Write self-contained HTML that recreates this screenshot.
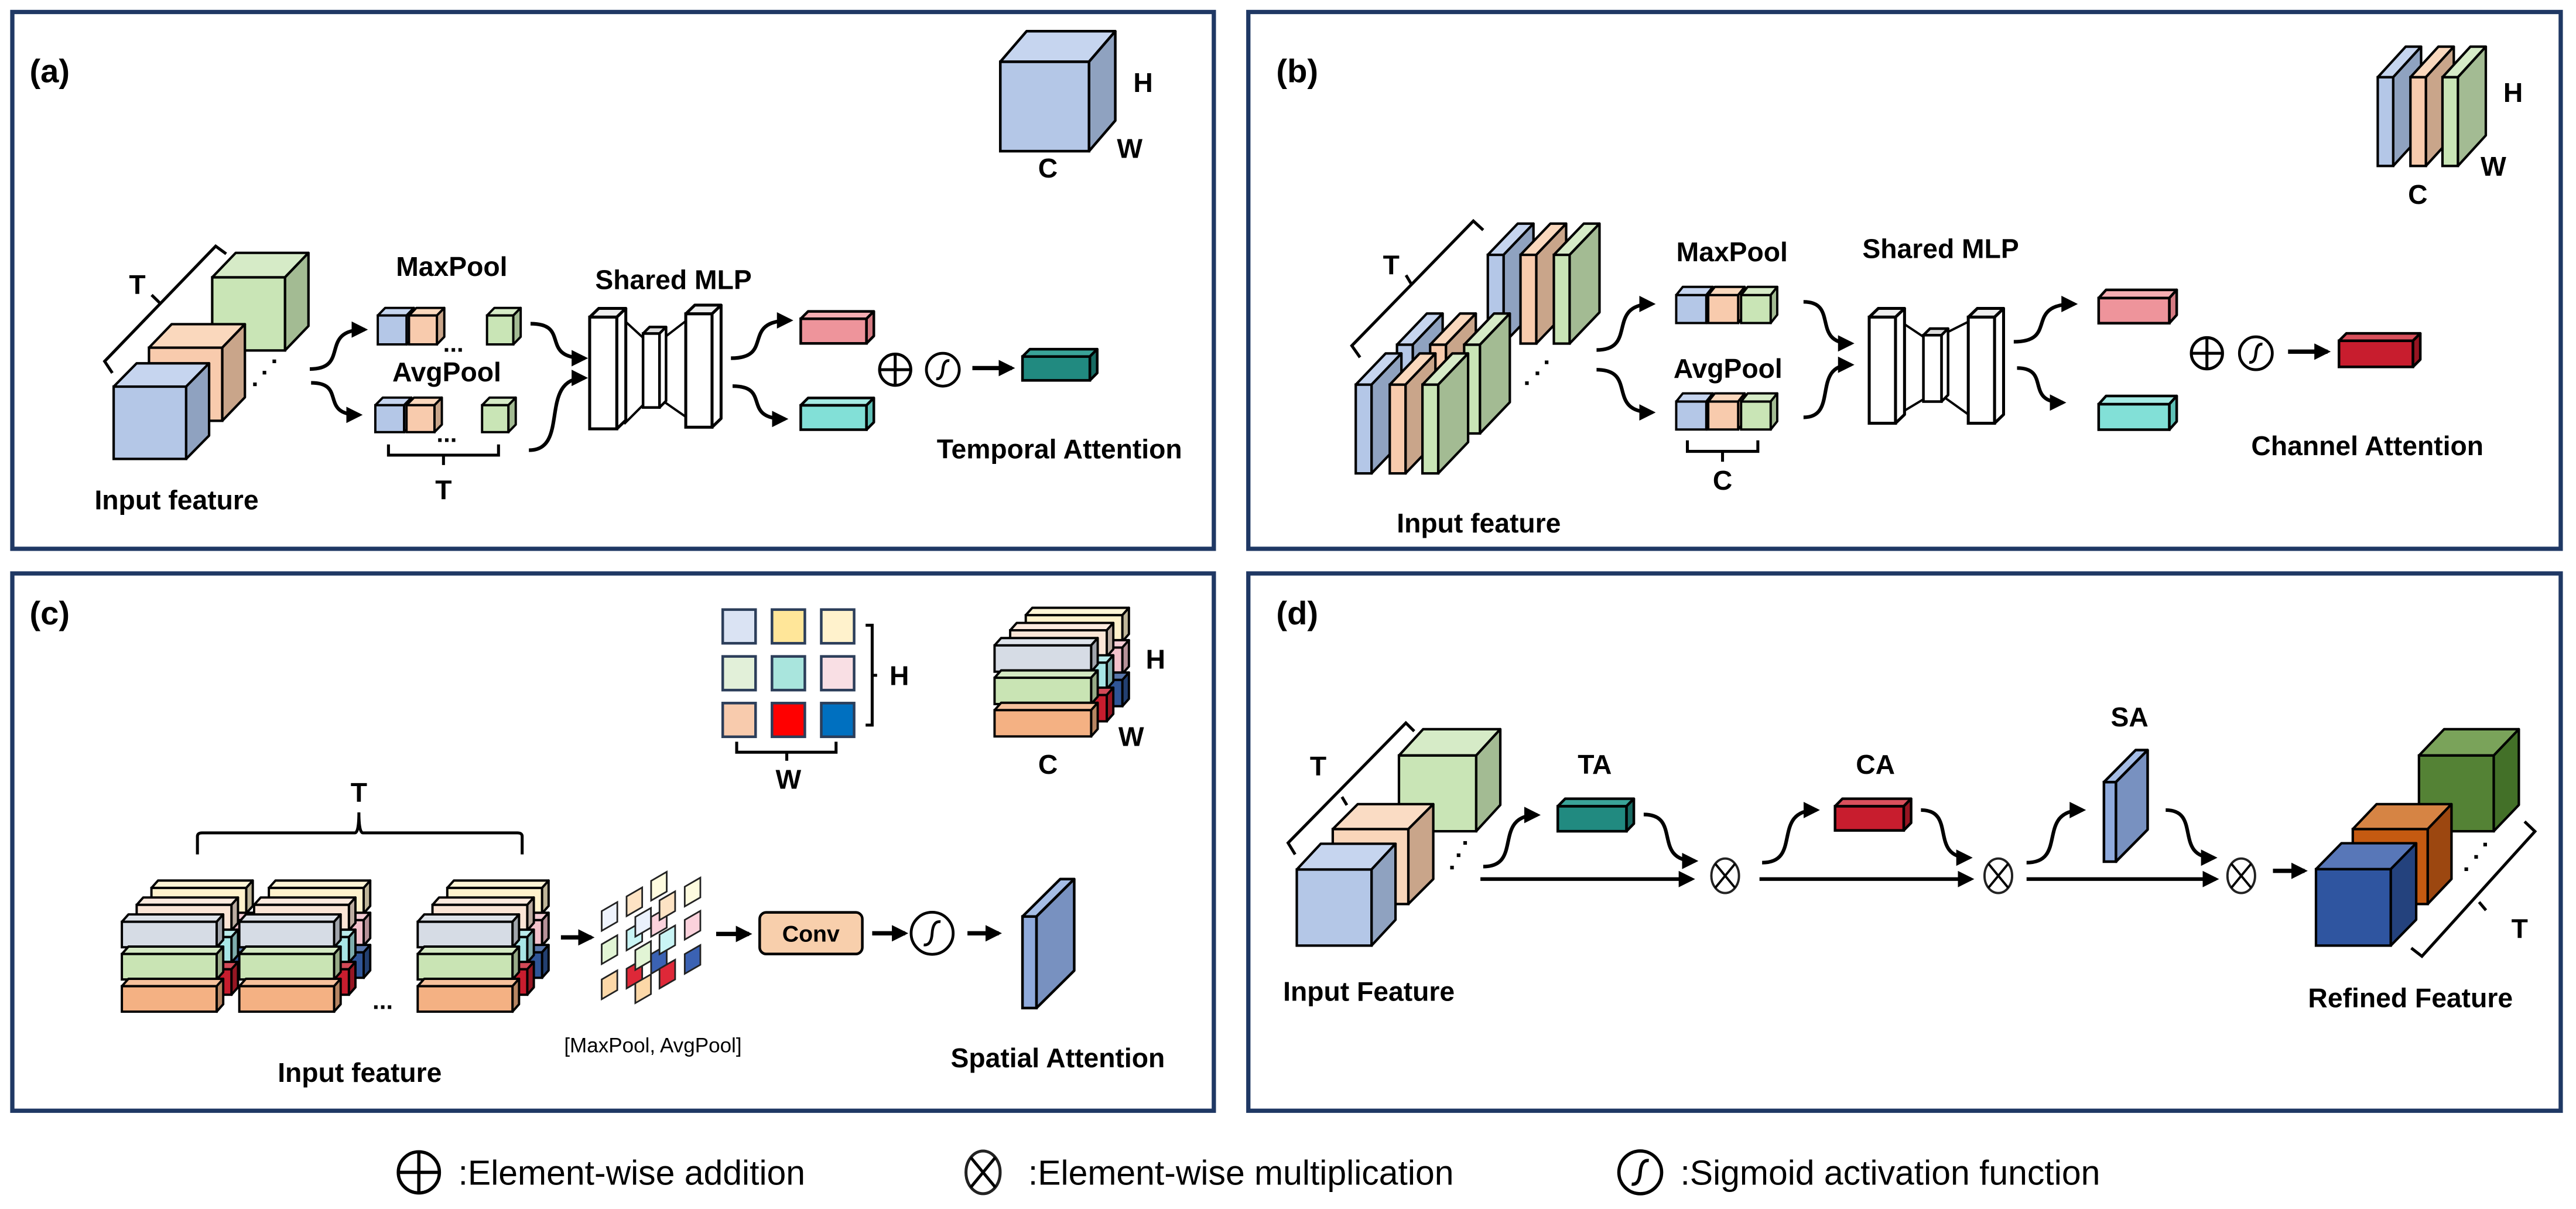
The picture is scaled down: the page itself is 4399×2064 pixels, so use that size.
<!DOCTYPE html>
<html><head><meta charset="utf-8">
<style>
html,body{margin:0;padding:0;background:#fff;}
svg{display:block;}
text{font-family:"Liberation Sans",Arial,sans-serif;fill:#000;}
.b{font-weight:bold;}
</style></head>
<body>
<svg id="s" width="4399" height="2064" viewBox="0 0 1568.3 735.8" preserveAspectRatio="none" xmlns="http://www.w3.org/2000/svg">
<defs>
<marker id="ah" viewBox="0 0 10 10" refX="8" refY="5" markerWidth="10" markerHeight="10" markerUnits="userSpaceOnUse" orient="auto">
<path d="M0,0 L10,5 L0,10 Z" fill="#000"/>
</marker>
</defs>
<rect x="0" y="0" width="1568.3" height="735.8" fill="#fff"/>
<g fill="none" stroke="#1f3864" stroke-width="2.6">
<rect x="7.5" y="7.3" width="731.5" height="326.7"/>
<rect x="760" y="7.3" width="799" height="326.7"/>
<rect x="7.5" y="349" width="731.5" height="327"/>
<rect x="760" y="349" width="799" height="327"/>
</g>
<g id="shapes"></g>

<!-- panel labels -->
<text class="b" x="18" y="50" font-size="20">(a)</text>
<text class="b" x="777" y="50" font-size="20">(b)</text>
<text class="b" x="18" y="380" font-size="20">(c)</text>
<text class="b" x="777" y="380" font-size="20">(d)</text>

<!-- (a) -->
<text class="b" x="690" y="56" font-size="16.5">H</text>
<text class="b" x="680" y="96" font-size="16.5">W</text>
<text class="b" x="632" y="108" font-size="16.5">C</text>
<text class="b" x="83.6" y="179" font-size="16.5" text-anchor="middle">T</text>
<text class="b" x="275" y="168" font-size="16.5" text-anchor="middle">MaxPool</text>
<text class="b" x="272" y="232" font-size="16.5" text-anchor="middle">AvgPool</text>
<text class="b" x="270" y="304" font-size="16.5" text-anchor="middle">T</text>
<text class="b" x="410" y="176" font-size="16.5" text-anchor="middle">Shared MLP</text>
<text class="b" x="645" y="279" font-size="16.5" text-anchor="middle">Temporal Attention</text>
<text class="b" x="107.5" y="310" font-size="16.5" text-anchor="middle">Input feature</text>
<text class="b" x="276" y="214" font-size="15" text-anchor="middle">...</text>
<text class="b" x="272" y="269" font-size="15" text-anchor="middle">...</text>

<!-- (b) -->
<text class="b" x="1530" y="62" font-size="16.5" text-anchor="middle">H</text>
<text class="b" x="1518" y="107" font-size="16.5" text-anchor="middle">W</text>
<text class="b" x="1472" y="124" font-size="16.5" text-anchor="middle">C</text>
<text class="b" x="847" y="167" font-size="16.5" text-anchor="middle">T</text>
<text class="b" x="1054.5" y="159" font-size="16.5" text-anchor="middle">MaxPool</text>
<text class="b" x="1052" y="230" font-size="16.5" text-anchor="middle">AvgPool</text>
<text class="b" x="1048.7" y="298" font-size="16.5" text-anchor="middle">C</text>
<text class="b" x="1181.5" y="157" font-size="16.5" text-anchor="middle">Shared MLP</text>
<text class="b" x="1441.3" y="277" font-size="16.5" text-anchor="middle">Channel Attention</text>
<text class="b" x="900.3" y="324" font-size="16.5" text-anchor="middle">Input feature</text>

<!-- (c) -->
<text class="b" x="547.5" y="417" font-size="16.5" text-anchor="middle">H</text>
<text class="b" x="480" y="480" font-size="16.5" text-anchor="middle">W</text>
<text class="b" x="703.5" y="407" font-size="16.5" text-anchor="middle">H</text>
<text class="b" x="688.7" y="454" font-size="16.5" text-anchor="middle">W</text>
<text class="b" x="638" y="471" font-size="16.5" text-anchor="middle">C</text>
<text class="b" x="218.5" y="488" font-size="16.5" text-anchor="middle">T</text>
<text class="b" x="233" y="614" font-size="15" text-anchor="middle">...</text>
<text class="b" x="493.7" y="573" font-size="14" text-anchor="middle">Conv</text>
<text x="397.5" y="640.5" font-size="12.5" text-anchor="middle">[MaxPool, AvgPool]</text>
<text class="b" x="219" y="658.5" font-size="16.5" text-anchor="middle">Input feature</text>
<text class="b" x="644" y="649.5" font-size="16.5" text-anchor="middle">Spatial Attention</text>

<!-- (d) -->
<text class="b" x="802.5" y="472" font-size="16.5" text-anchor="middle">T</text>
<text class="b" x="970.9" y="471" font-size="16.5" text-anchor="middle">TA</text>
<text class="b" x="1141.8" y="471" font-size="16.5" text-anchor="middle">CA</text>
<text class="b" x="1296.5" y="442" font-size="16.5" text-anchor="middle">SA</text>
<text class="b" x="1534" y="571" font-size="16.5" text-anchor="middle">T</text>
<text class="b" x="833.4" y="609" font-size="16.5" text-anchor="middle">Input Feature</text>
<text class="b" x="1467.5" y="613" font-size="16.5" text-anchor="middle">Refined Feature</text>

<!-- legend -->
<text x="279" y="721" font-size="21">:Element-wise addition</text>
<text x="626" y="721" font-size="21">:Element-wise multiplication</text>
<text x="1023" y="721" font-size="21">:Sigmoid activation function</text>
</svg>
<script>
(function(){
var g=document.getElementById('shapes');var NS='http://www.w3.org/2000/svg';
function el(t,a){var e=document.createElementNS(NS,t);for(var k in a)e.setAttribute(k,a[k]);g.appendChild(e);return e;}
function hex(c){c=c.replace('#','');return [parseInt(c.substr(0,2),16),parseInt(c.substr(2,2),16),parseInt(c.substr(4,2),16)];}
function mix(c,f,t){var a=hex(c),b=t==='w'?[255,255,255]:[0,0,0];return 'rgb('+a.map(function(v,i){return Math.round(v+(b[i]-v)*f)}).join(',')+')';}
function cube(x,y,w,h,dx,dy,fr,tp,sd,sw){
  sw=sw||1.5;tp=tp||mix(fr,0.25,'w');sd=sd||mix(fr,0.22,'k');
  el('polygon',{points:[x,y,x+dx,y-dy,x+w+dx,y-dy,x+w,y].join(' '),fill:tp,stroke:'#000','stroke-width':sw,'stroke-linejoin':'round'});
  el('polygon',{points:[x+w,y,x+w+dx,y-dy,x+w+dx,y+h-dy,x+w,y+h].join(' '),fill:sd,stroke:'#000','stroke-width':sw,'stroke-linejoin':'round'});
  el('rect',{x:x,y:y,width:w,height:h,fill:fr,stroke:'#000','stroke-width':sw});
}
function line(x1,y1,x2,y2,sw,arrow){var a={x1:x1,y1:y1,x2:x2,y2:y2,stroke:'#000','stroke-width':sw||1.6};if(arrow)a['marker-end']='url(#ah)';return el('line',a);}
function path(d,sw,arrow){var a={d:d,fill:'none',stroke:'#000','stroke-width':sw||1.6};if(arrow)a['marker-end']='url(#ah)';return el('path',a);}
function curve(x1,y1,x2,y2){var dx=x2-x1;path('M'+x1+','+y1+' C'+(x1+dx*0.75)+','+y1+' '+(x1+dx*0.15)+','+y2+' '+x2+','+y2,2.2,true);}
function dot(x,y){el('rect',{x:x-1.1,y:y-1.1,width:2.2,height:2.2,fill:'#000'});}
function plus(cx,cy,r,sw){el('circle',{cx:cx,cy:cy,r:r,fill:'#fff',stroke:'#000','stroke-width':sw||1.8});line(cx-r,cy,cx+r,cy,sw||1.8);line(cx,cy-r,cx,cy+r,sw||1.8);}
function times(cx,cy,r,sw){el('ellipse',{cx:cx,cy:cy,rx:r*0.8,ry:r,fill:'#fff',stroke:'#222','stroke-width':sw||1.4});line(cx-r*0.8*0.72,cy-r*0.7,cx+r*0.8*0.72,cy+r*0.7,sw||1.4);line(cx+r*0.8*0.72,cy-r*0.7,cx-r*0.8*0.72,cy+r*0.7,sw||1.4);}
function sig(cx,cy,r,sw){el('circle',{cx:cx,cy:cy,r:r,fill:'#fff',stroke:'#000','stroke-width':sw||1.7});path('M'+(cx-r*0.4)+','+(cy+r*0.55)+' Q'+(cx-0.5)+','+(cy+r*0.6)+' '+cx+','+cy+' Q'+(cx+0.5)+','+(cy-r*0.6)+' '+(cx+r*0.4)+','+(cy-r*0.55),sw||1.7);}
function brace(pts){path(pts,1.8);}

var BL='#b4c7e7',OR='#f8cbad',GR='#c9e5b6';
var BLt='#c6d5ef',BLs='#8fa2c0',ORt='#fad8bd',ORs='#c9a58a',GRt='#d6ebc7',GRs='#a3bb93';

/* ===== (a) ===== */
cube(609,37.6,54,54.4,16,18.6,BL,BLt,BLs,1.6);
cube(129.2,168.8,44.3,44.5,14.3,14.9,GR,GRt,GRs);
cube(90.7,211.6,44.6,44.5,13.8,14.3,OR,ORt,ORs);
cube(69.2,235.3,44.1,44,14,14.2,BL,BLt,BLs);
path('M137.7,154.5 L131.3,149.8 L63.7,219.9 L68.4,227',1.8);
line(92.3,179.5,97.1,184.2,1.8);
dot(167,219.9);dot(161,226.8);dot(155.2,233.9);
curve(188.6,224.6,222,200.6);curve(189.4,233,218.8,252.5);
[[230,249,296.5],[228.5,247.5,293.5]].forEach(function(r,i){
  var y=i?246.6:192,h=i?16.4:17.6;
  cube(r[0],y,17.5,h,4.5,4.6,BL,BLt,BLs,1.4);
  cube(r[1],y,17,h,4.5,4.6,OR,ORt,ORs,1.4);
  cube(r[2],y,16,h,4.5,4.6,GR,GRt,GRs,1.4);
});
brace('M236.5,270.5 L236.5,277 L303.5,277 L303.5,270.5 M270,277 L270,283');
curve(323,197,356,218);curve(322,274,356,230);
line(380,195,392,206,1.4);line(380,258,392,246,1.4);line(405,205,418,195,1.4);line(405,245,418,254,1.4);
cube(359,193,16.5,68,5.5,5.3,'#fff','#eee','#fff',1.8);
cube(391.5,203,10,45,4,4,'#fff','#ddd','#fff',1.6);
cube(417.5,191,16,69,5.5,5.3,'#fff','#eee','#fff',1.8);
curve(445,218,481,195);curve(446,235,478,255);
cube(487.5,194,40,15,4.5,4.5,'#ee949b','#f5aeb3','#d47a82',1.6);
cube(487.5,246.7,40,14.8,4.5,4.5,'#82e0d7','#a5ebe4','#5fc0b6',1.6);
plus(545,225,9.5);sig(574,225,10);
line(592,224,616,224,2.6,true);
cube(622.5,217,41,14.5,4.5,4.5,'#218a80','#3aa398','#176a62',1.6);

/* ===== (b) ===== */
function slab(x,y,w,h,dx,dy,c){var m={b:[BL,BLt,BLs],o:[OR,ORt,ORs],g:[GR,GRt,GRs]}[c];cube(x,y,w,h,dx,dy,m[0],m[1],m[2],1.5);}
slab(1447.6,47,9.4,54,17,18.6,'b');slab(1467.5,47,9.4,54,17,18.6,'o');slab(1487,47,9.4,54,17,18.6,'g');
slab(905.8,155.1,9.6,54,18.2,19,'b');slab(925.7,155.1,9.6,54,18.2,19,'o');slab(946,155.1,9.6,54,18.2,19,'g');
slab(850.5,209.8,9.6,54,18.2,19,'b');slab(870.7,209.8,9.6,54,18.2,19,'o');slab(891.4,209.8,9.6,54,18.2,19,'g');
slab(825.4,234.1,9.6,54,18.2,19,'b');slab(846.1,234.1,9.6,54,18.2,19,'o');slab(866,234.1,9.6,54,18.2,19,'g');
path('M903,140 L897,134.5 L823,210.4 L828,217.5',1.8);line(856,167.5,859,172.5,1.8);
dot(941.6,220.5);dot(936,227.2);dot(929.6,233.2);
curve(972,213,1006,185);curve(972,225,1006,251);
[179.6,244.4].forEach(function(y,i){
  cube(1020.5,y,18.3,17,4,5,BL,BLt,BLs,1.4);
  cube(1040,y,18.2,17,4,5,OR,ORt,ORs,1.4);
  cube(1060,y,18,17,4,5,GR,GRt,GRs,1.4);
});
brace('M1027.3,268 L1027.3,274.7 L1070.2,274.7 L1070.2,268 M1048.7,274.7 L1048.7,281');
curve(1098,183.7,1127,209);curve(1098,254,1127,222);
line(1156,195,1171,205,1.4);line(1156,252,1171,243,1.4);line(1184,203,1198,196,1.4);line(1184,242,1198,252,1.4);
cube(1138,193,16,64.6,5.5,5.3,'#fff','#eee','#fff',1.8);
cube(1171,204,11,40.4,4,4,'#fff','#ddd','#fff',1.6);
cube(1198.3,193,16,64.6,5.5,5.3,'#fff','#eee','#fff',1.8);
curve(1226,208,1263,185);curve(1228,224,1256,245);
cube(1277.7,181.4,43,15.3,4.5,5,'#ee949b','#f5aeb3','#d47a82',1.6);
cube(1277.7,246,43,15.5,4.5,5,'#82e0d7','#a5ebe4','#5fc0b6',1.6);
plus(1343.6,215,9.5);sig(1373.4,215,10);
line(1393,214,1417,214,2.6,true);
cube(1424,207.4,45,15.9,4.5,4.5,'#c81d2e','#d9505c','#961522',1.6);

/* ===== (c) ===== */
var gc=[['#dae3f3','#ffe699','#fff2cc'],['#e2f0d9','#a9e5dd','#f9dfe4'],['#f8cbad','#ff0000','#0070c0']];
var gy=[371,399.5,427.9],gx=[440,470,500];
for(var r=0;r<3;r++)for(var c=0;c<3;c++)el('rect',{x:gx[c],y:gy[r],width:20,height:20.5,fill:gc[r][c],stroke:'#2c3e5a','stroke-width':1.6});
brace('M527,380.5 L531,380.5 L531,441.3 L527,441.3 M531,411 L534,411');
brace('M448.5,451.4 L448.5,457.8 L509,457.8 L509,451.4 M479,457.8 L479,463');
var layers=[['#fff2cc','#f3c1cb','#2f5597'],['#fbe5d6','#a8e6e6','#c81d2e'],['#d6dce5','#c9e4b4','#f4b183']];
function stack(x,y,w,h,step,ox,oy){
  for(var L=0;L<3;L++){var k=2-L;for(var r=0;r<3;r++){var col=layers[L][r];cube(x+ox*k,y+oy*k+r*step,w,h,4,4.5,col,mix(col,0.2,'w'),mix(col,0.25,'k'),1.4);}}
}
stack(605.5,392.8,58.8,16,19.7,9.5,-9.2);
[74.2,145.7,254.3].forEach(function(x){stack(x,561,57.7,15.5,19.6,9,-10.3);});
brace('M120.2,520 L120.2,509 Q120.2,506.9 123,506.9 L216,506.9 Q218.5,506.9 218.5,494.4 Q218.5,506.9 221,506.9 L315,506.9 Q317.9,506.9 317.9,509 L317.9,520');
line(341.5,570.5,360,570.5,2.6,true);
var tiles=[[48,420,'#eef3fc'],[48,590,'#e2f5d5'],[48,770,'#fcd8a8'],[122,345,'#fde3c4'],[122,520,'#c9f5f5'],[122,715,'#de2838'],[195,265,'#fefbdf'],[195,450,'#fbd2dc'],[195,640,'#3b62b3'],[295,295,'#fefbdf'],[295,465,'#fbd2dc'],[295,640,'#3b62b3'],[148,450,'#eaf1fc'],[148,620,'#e2f5d5'],[148,790,'#fcd8a8'],[220,365,'#fde3c4'],[220,540,'#c9f5f5'],[220,715,'#de2838']];
tiles.forEach(function(t){var x=356.5+t[0]/4.886,y=499.1+t[1]/8.415,w=9.5,h=12,s=5.5;
  el('polygon',{points:[x,y+s,x+w,y,x+w,y+h,x,y+h+s].join(' '),fill:t[2],stroke:'#222','stroke-width':1});});
line(436,568.4,456,568.4,2.6,true);
el('rect',{x:462.5,y:555.3,width:62.5,height:25.3,rx:4,fill:'#f8cfac',stroke:'#000','stroke-width':1.6});
line(531,568,551,568,2.6,true);
sig(567.5,568,12.8);
line(589,568,608,568,2.6,true);
cube(622.5,557.8,8.5,55.7,23,22.8,'#8faadc','#a5bde6','#7891c0',1.6);

/* ===== (d) ===== */
cube(851.7,459.8,47,46.1,14.7,16,GR,GRt,GRs);
cube(811.4,504.6,46,45.6,15.2,15.2,'#f9d6ba','#fadcc4','#c9a58a');
cube(789.5,529.2,45.5,46.3,14.6,15.7,BL,BLt,BLs);
path('M861,445 L855.9,440 L784.2,513 L788.5,520',1.8);line(817,485,820,490,1.8);
dot(892,513);dot(888,520.5);dot(884,528);
line(901.3,535,1030,535,2.2,true);
line(1071.2,535,1200,535,2.2,true);
line(1233.8,535,1349,535,2.2,true);
line(1383.8,530,1403,530,2.6,true);
curve(903,527.4,936,496);curve(1000.7,495.7,1032,524);
curve(1072.8,525,1106,493);curve(1169.5,493,1199,522);
curve(1233.8,525,1268,493);curve(1318.5,493,1348,522);
cube(948.4,490.7,41.8,15.2,4.5,4.6,'#218a80','#3aa398','#176a62',1.6);
cube(1117.2,490.7,41.8,14.7,4.5,4.6,'#c81d2e','#d9505c','#961522',1.6);
cube(1280.9,476,7.3,48.4,19.3,19.5,'#8faadc','#a5bde6','#7891c0',1.6);
times(1050.3,533,10.5);times(1216.6,533,10.5);times(1364.5,533,10.5);
cube(1472.7,459.8,45.5,46.1,15.3,16,'#548235','#7aa35a','#437028');
cube(1432.4,504.6,45.6,45.6,14.5,15.2,'#c55a11','#d68444','#9c4710');
cube(1410,529,45.5,46.5,15.5,15.8,'#2f55a0','#5877b8','#24427d');
path('M1537,500 L1543.3,506 L1474.5,582 L1468,577',1.8);line(1509.3,549,1513.5,554,1.8);
dot(1513,514);dot(1507.5,521.5);dot(1501.5,529);

plus(255,713.5,12.5,2);
times(598.5,713.5,13,1.8);
sig(998.6,713.5,13,2);
})();
</script>
</body></html>
